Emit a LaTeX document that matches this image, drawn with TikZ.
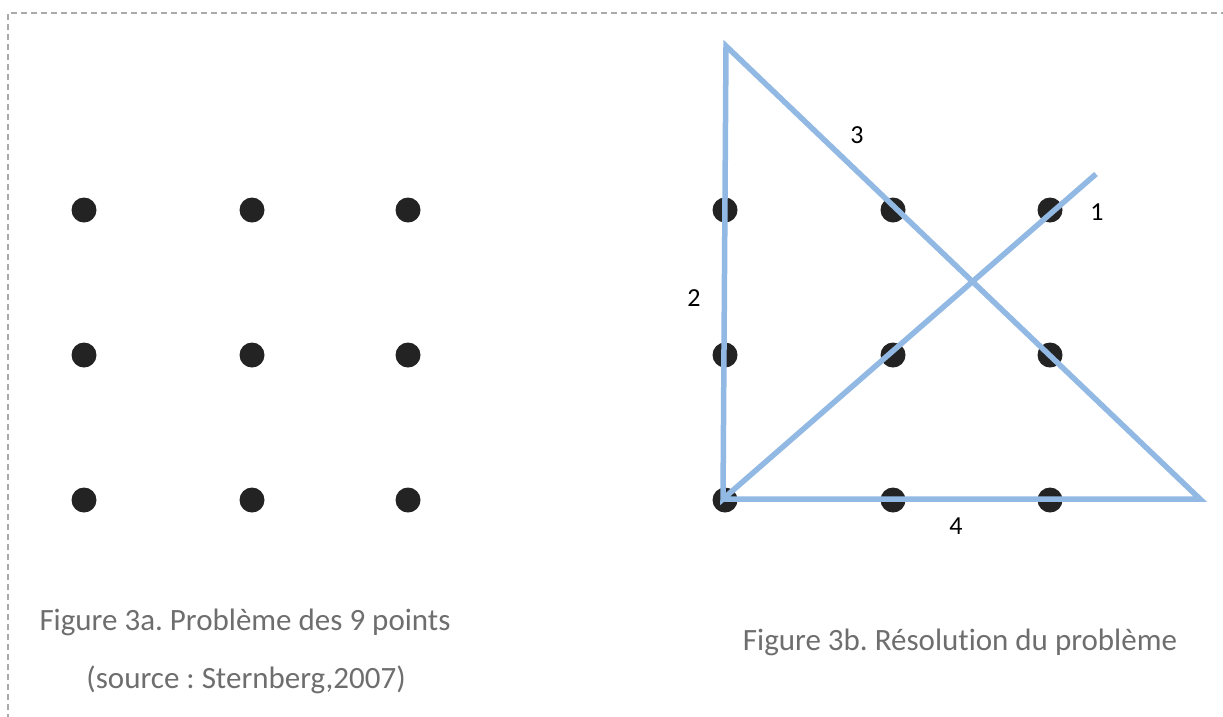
\documentclass[tikz,border=0pt]{standalone}
\usepackage{fontspec}
\setmainfont{Carlito}[RawFeature=-liga]
\frenchspacing
\begin{document}
\begin{tikzpicture}[x=1pt,y=-1pt,
  dot/.style={circle,fill=dotcol,inner sep=0pt,minimum size=25pt},
  seg/.style={draw=linecol,line width=5.5pt,line join=miter,line cap=butt},
  lbl/.style={font=\fontsize{26}{30}\selectfont,text=black,inner sep=0pt},
  captxt/.style={font=\fontsize{31}{36}\selectfont,text=capcol,inner sep=0pt},
  frame/.style={draw=framecol,line width=1.8pt,dash pattern=on 6pt off 4pt}]
\definecolor{dotcol}{HTML}{232323}
\definecolor{linecol}{HTML}{92B9E3}
\definecolor{capcol}{HTML}{6E6E6E}
\definecolor{framecol}{HTML}{AAAAAA}
\useasboundingbox (0,0) rectangle (1223,716);
\draw[frame] (8,720) -- (8,13) -- (1226,13);
% left grid
\foreach \i/\x in {1/84,2/252,3/408}{
  \foreach \j/\y in {1/210,2/355,3/500}{
    \node[dot] (a\i\j) at (\x,\y) {};
  }
}
% right grid
\foreach \i/\x in {1/725,2/893,3/1050}{
  \foreach \j/\y in {1/210,2/355,3/500}{
    \node[dot] (b\i\j) at (\x,\y) {};
  }
}
\coordinate (s) at (1096,174);
\coordinate (bl) at (723,499);
\coordinate (tp) at (726,46);
\coordinate (br) at (1200,499);
\draw[seg] (s) -- (bl) -- (tp) -- (br) -- (bl);
\node[lbl] (l1) at (1097,212) {1};
\node[lbl] (l2) at (694,298) {2};
\node[lbl] (l3) at (857,135) {3};
\node[lbl] (l4) at (956,526) {4};
\node[captxt] (c1) at (245,622) {Figure 3a. Problème des 9 points};
\node[captxt] (c2) at (246,680) {(source : Sternberg,2007)};
\node[captxt] (c3) at (960,642) {Figure 3b. Résolution du problème};
\end{tikzpicture}
\end{document}
